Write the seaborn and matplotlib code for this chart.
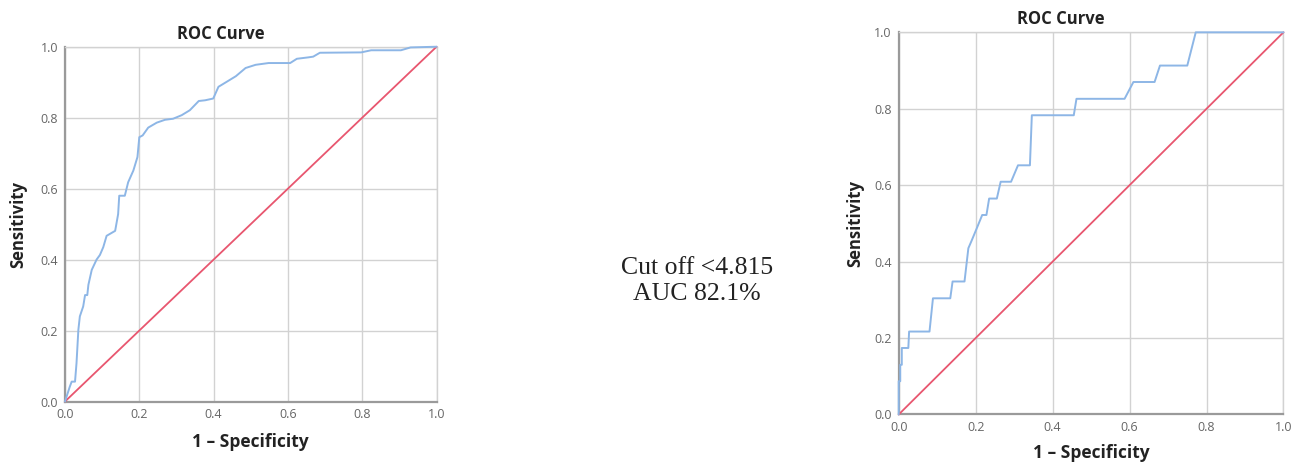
import pandas as pd
import numpy as np
import seaborn as sns
import matplotlib.pyplot as plt

# left ROC curve
fpr_left = [0.0, 0.013, 0.018, 0.027, 0.031, 0.036, 0.040, 0.049, 0.054, 0.060, 0.063, 0.072,
            0.085, 0.094, 0.103, 0.112, 0.135, 0.143, 0.146, 0.161, 0.170, 0.184, 0.195, 0.200,
            0.209, 0.224, 0.247, 0.269, 0.291, 0.314, 0.336, 0.360, 0.377, 0.399, 0.413, 0.435,
            0.460, 0.486, 0.513, 0.548, 0.606, 0.624, 0.655, 0.668, 0.686, 0.797, 0.806, 0.824,
            0.904, 0.930, 1.0]
tpr_left = [0.0, 0.042, 0.056, 0.056, 0.108, 0.202, 0.240, 0.268, 0.300, 0.300, 0.329, 0.371,
            0.400, 0.413, 0.435, 0.467, 0.481, 0.528, 0.580, 0.580, 0.618, 0.651, 0.689, 0.745,
            0.750, 0.772, 0.786, 0.794, 0.797, 0.807, 0.821, 0.847, 0.849, 0.854, 0.887, 0.901,
            0.917, 0.940, 0.949, 0.954, 0.954, 0.966, 0.970, 0.972, 0.983, 0.984, 0.986, 0.990,
            0.990, 0.998, 1.0]

# right ROC curve
fpr_right = [0.0, 0.0, 0.004, 0.004, 0.008, 0.008, 0.025, 0.027, 0.080, 0.089, 0.134, 0.140,
             0.171, 0.181, 0.190, 0.204, 0.217, 0.228, 0.235, 0.255, 0.265, 0.292, 0.310, 0.341,
             0.346, 0.455, 0.462, 0.587, 0.610, 0.665, 0.679, 0.750, 0.772, 1.0]
tpr_right = [0.0, 0.087, 0.087, 0.130, 0.130, 0.174, 0.174, 0.217, 0.217, 0.304, 0.304, 0.348,
             0.348, 0.435, 0.456, 0.490, 0.522, 0.522, 0.565, 0.565, 0.609, 0.609, 0.652, 0.652,
             0.783, 0.783, 0.826, 0.826, 0.870, 0.870, 0.913, 0.913, 1.0, 1.0]

ref_line = [0.0, 1.0]
ticks = [0.0, 0.2, 0.4, 0.6, 0.8, 1.0]
note = "Cut off <4.815\nAUC 82.1%"

sns.set_style("white")
plt.rcParams['font.family'] = ['Open Sans', 'DejaVu Sans']

blue = "#8DB6E6"
red = "#E8566F"
grid_c = "#D2D2D2"
spine_c = "#9A9A9A"

fig = plt.figure(figsize=(12.92, 4.63), dpi=100)
ax1 = fig.add_axes([0.0503, 0.1328, 0.2876, 0.7663])
ax2 = fig.add_axes([0.6956, 0.1048, 0.2978, 0.8254])


def roc_panel(ax, fpr, tpr, title_y, xlab_y, ylab_x):
    df = pd.DataFrame({'fpr': fpr, 'tpr': tpr})
    diag = pd.DataFrame({'x': ref_line, 'y': ref_line})
    sns.lineplot(data=diag, x='x', y='y', ax=ax, color=red, lw=1.3,
                 sort=False, estimator=None)
    sns.lineplot(data=df, x='fpr', y='tpr', ax=ax, color=blue, lw=1.4,
                 sort=False, estimator=None)
    for ln in ax.lines:
        ln.set_clip_on(False)
        ln.set_zorder(5)
    ax.set_xlim(0, 1)
    ax.set_ylim(0, 1)
    ax.set_xticks(ticks)
    ax.set_yticks(ticks)
    ax.set_xticklabels([f"{t:.1f}" for t in ticks])
    ax.set_yticklabels([f"{t:.1f}" for t in ticks])
    ax.grid(True, color=grid_c, lw=1.0)
    ax.set_axisbelow(True)
    for s in ['top', 'right']:
        ax.spines[s].set_color(grid_c)
        ax.spines[s].set_linewidth(1.0)
    for s in ['left', 'bottom']:
        ax.spines[s].set_color(spine_c)
        ax.spines[s].set_linewidth(1.6)
    ax.tick_params(axis='both', labelsize=9, colors='#666666', length=3,
                   width=0.8, pad=2, direction='out')
    ax.tick_params(axis='both', color=spine_c)
    ax.set_xlabel("1 – Specificity", fontsize=12.5, fontweight='bold', color='#222222')
    ax.set_ylabel("Sensitivity", fontsize=12, fontweight='bold', color='#222222')
    ax.xaxis.set_label_coords(0.5, xlab_y)
    ax.xaxis.label.set_va('center')
    ax.yaxis.set_label_coords(ylab_x, 0.5)
    ax.yaxis.label.set_va('center')
    ax.set_title("ROC Curve", fontsize=12, fontweight='bold', color='#222222',
                 x=0.42, y=title_y, va='center', pad=0)


roc_panel(ax1, fpr_left, tpr_left, 1.037, -0.113, -0.127)
roc_panel(ax2, fpr_right, tpr_right, 1.035, -0.100, -0.114)

fig.text(697 / 1292, 1 - 281 / 463, note, ha='center', va='center',
         fontsize=18.5, family='Liberation Serif', linespacing=1.28, color='#222222')

fig.savefig("out.png", dpi=100)
